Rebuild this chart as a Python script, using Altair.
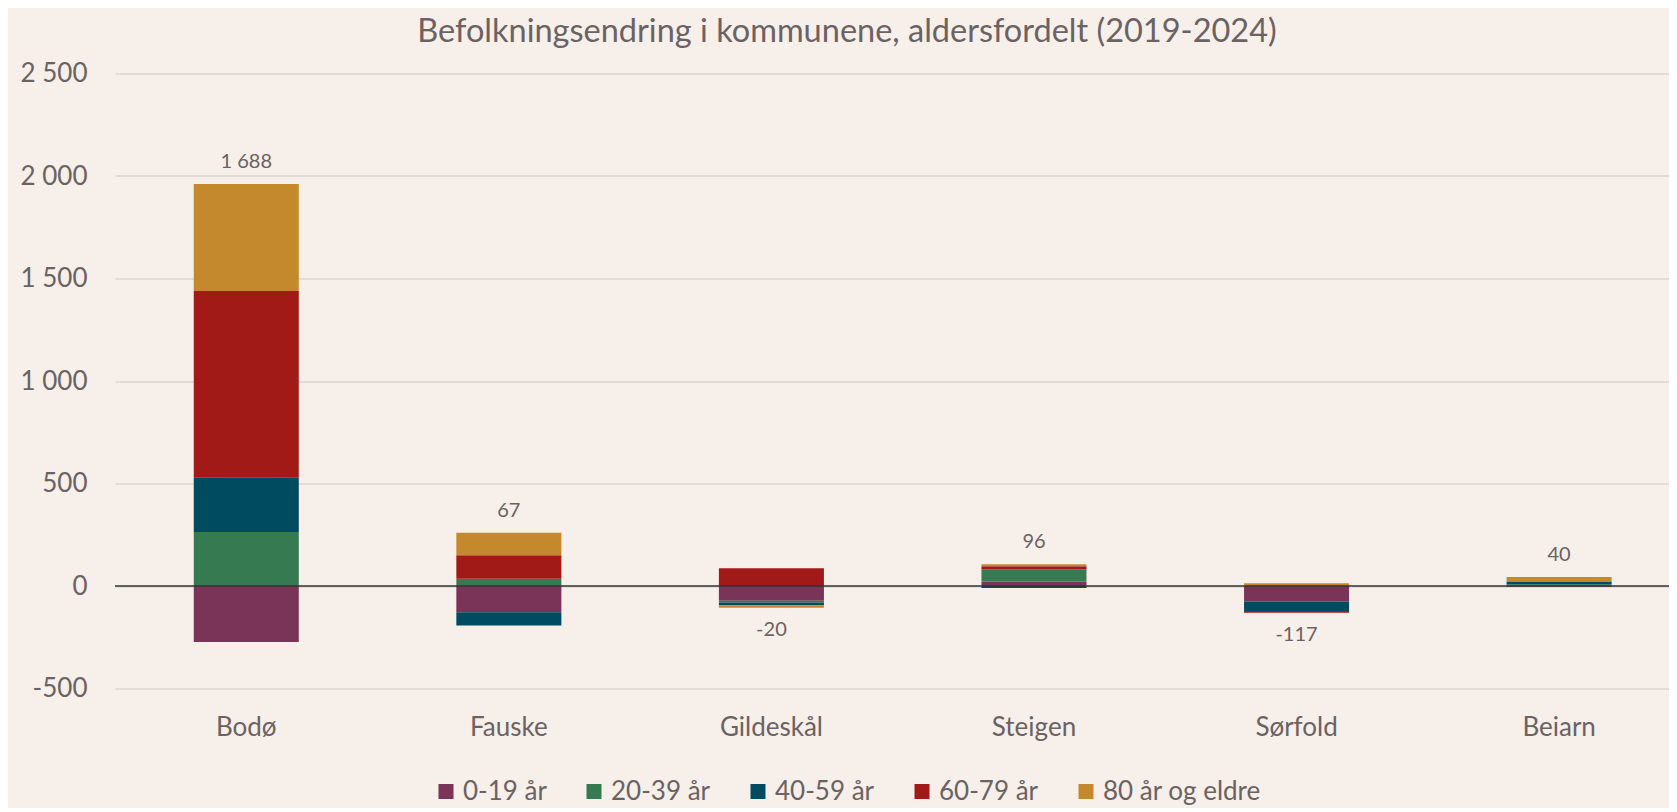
import altair as alt
import numpy as np
import pandas as pd

# ---- data ----
kommuner = ["Bodø", "Fauske", "Gildeskål", "Steigen", "Sørfold", "Beiarn"]
aldersgrupper = ["0-19 år", "20-39 år", "40-59 år", "60-79 år", "80 år og eldre"]
alder_0_19 = [-273, -128, -72, 22, -76, -4]
alder_20_39 = [263, 35, -8, 60, 0, 7]
alder_40_59 = [267, -65, -14, -10, -46, 13]
alder_60_79 = [909, 115, 86, 14, -9, 0]
alder_80 = [522, 110, -12, 10, 14, 24]
totaler = [1688, 67, -20, 96, -117, 40]
y_ticks = [-500, 0, 500, 1000, 1500, 2000, 2500]
farger = ["#7A3457", "#367A52", "#004B5F", "#A21A18", "#C4892C"]

serier = [alder_0_19, alder_20_39, alder_40_59, alder_60_79, alder_80]
rows = []
for gi, (g, vals) in enumerate(zip(aldersgrupper, serier)):
    for k, v in zip(kommuner, vals):
        rows.append({"kommune": k, "alder": g, "rekkefolge": gi, "verdi": v})
df = pd.DataFrame(rows)

lab = pd.DataFrame({"kommune": kommuner, "total": totaler})
pos = df[df.verdi > 0].groupby("kommune").verdi.sum()
neg = df[df.verdi < 0].groupby("kommune").verdi.sum()
lab["pos"] = lab.kommune.map(pos).fillna(0)
lab["neg"] = lab.kommune.map(neg).fillna(0)
lab["anker"] = np.where(lab.total >= 0, lab.pos, lab.neg)
lab["tekst"] = [f"{t:,}".replace(",", " ") for t in totaler]

FONT = "Lato"
TXT = "#6B6264"
BG = "#F7EFE9"

x = alt.X(
    "kommune:N",
    sort=kommuner,
    scale=alt.Scale(range=[0, 1575.4], paddingInner=0.6, paddingOuter=0.3),
    axis=alt.Axis(
        title=None, labelAngle=0, domain=False, ticks=False, tickSize=0,
        grid=False, labelPadding=39, labelBaseline="middle",
        labelFontSize=26, labelFont=FONT, labelColor=TXT,
    ),
)

y = alt.Y(
    "verdi:Q",
    stack="zero",
    scale=alt.Scale(domain=[-500, 2500], nice=False),
    axis=alt.Axis(
        title=None, values=y_ticks, domain=False, ticks=False, tickSize=0,
        labelPadding=28, labelFontSize=26, labelFont=FONT, labelColor=TXT,
        gridColor="#DAD6D3", gridWidth=1.5,
        labelExpr="(datum.value < 0 ? '-' : '') + replace(format(abs(datum.value), ','), ',', ' ')",
    ),
)

bars = alt.Chart(df).mark_bar().encode(
    x=x,
    y=y,
    color=alt.Color(
        "alder:N",
        scale=alt.Scale(domain=aldersgrupper, range=farger),
        legend=alt.Legend(
            title=None, orient="none", legendX=318, legendY=705,
            direction="horizontal", columns=5, symbolType="square",
            symbolSize=225, symbolStrokeWidth=0, labelFontSize=26,
            labelFont=FONT, labelColor=TXT, columnPadding=34, labelOffset=4,
        ),
    ),
    order=alt.Order("rekkefolge:Q", sort="ascending"),
)

zero = alt.Chart(pd.DataFrame({"null": [0]})).mark_rule(
    color="#333333", strokeWidth=1.6
).encode(y=alt.Y("null:Q"))

tekst_pos = alt.Chart(lab).transform_filter("datum.total >= 0").mark_text(
    dy=-22, baseline="middle", fontSize=20, font=FONT, color=TXT
).encode(x=x, y=alt.Y("anker:Q"), text="tekst:N")

tekst_neg = alt.Chart(lab).transform_filter("datum.total < 0").mark_text(
    dy=22, baseline="middle", fontSize=20, font=FONT, color=TXT
).encode(x=x, y=alt.Y("anker:Q"), text="tekst:N")

chart = (
    alt.layer(bars, zero, tekst_pos, tekst_neg)
    .properties(
        width=1554,
        height=615,
        padding={"left": 107, "top": 65.5, "right": 0, "bottom": 119.5},
        autosize=alt.AutoSizeParams(type="none"),
        background=BG,
        title=alt.Title(
            "Befolkningsendring i kommunene, aldersfordelt (2019-2024)",
            fontSize=32.5, font=FONT, color=TXT, fontWeight="normal",
            anchor="middle", dx=-45, offset=12,
        ),
    )
    .configure_view(stroke=None)
)

chart.save("out.html", embed_options={"renderer": "svg", "actions": False})
